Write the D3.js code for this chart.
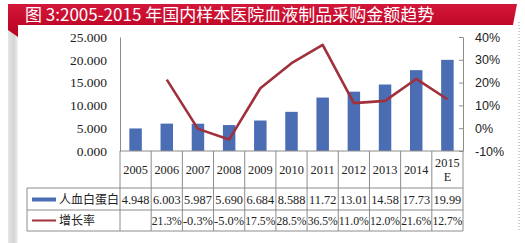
<!DOCTYPE html>
<html>
<head>
<meta charset="utf-8">
<script src="https://cdn.jsdelivr.net/npm/d3@7"></script>
<style>
  html, body { margin: 0; padding: 0; background: #fff; }
  svg { display: block; }
</style>
</head>
<body>
<div id="chart"></div>
<script>
// data
const years = ["2005", "2006", "2007", "2008", "2009", "2010", "2011", "2012", "2013", "2014", "2015E"];
const albumin = [4.948, 6.003, 5.987, 5.690, 6.684, 8.588, 11.72, 13.01, 14.58, 17.73, 19.99];
const albuminLabels = ["4.948", "6.003", "5.987", "5.690", "6.684", "8.588", "11.72", "13.01", "14.58", "17.73", "19.99"];
const growth = [null, 21.3, -0.3, -5.0, 17.5, 28.5, 36.5, 11.0, 12.0, 21.6, 12.7];
const growthLabels = ["", "21.3%", "-0.3%", "-5.0%", "17.5%", "28.5%", "36.5%", "11.0%", "12.0%", "21.6%", "12.7%"];
const leftTicks = [0, 5, 10, 15, 20, 25];
const rightTicks = [-10, 0, 10, 20, 30, 40];
const seriesNames = ["人血白蛋白", "增长率"];
const title = "图 3:2005-2015 年国内样本医院血液制品采购金额趋势";

const W = 525, H = 243;
const plot = { left: 120, right: 463, top: 37, bottom: 151 };
const rowY = [151, 188, 210, 231]; // table row lines
const tableLeft = 27;

const blue = "#4a6db3";
const red = "#a1303d";
const grid = "#8c8c8c";

const svg = d3.select("#chart").append("svg")
  .attr("width", W)
  .attr("height", H);

const defs = svg.append("defs");
const rg = defs.append("linearGradient").attr("id", "ribbon").attr("x1", "0%").attr("y1", "0%").attr("x2", "0%").attr("y2", "100%");
rg.append("stop").attr("offset", "0%").attr("stop-color", "#d3173a");
rg.append("stop").attr("offset", "100%").attr("stop-color", "#b8001f");
const sg = defs.append("linearGradient").attr("id", "shade").attr("x1", "0%").attr("y1", "0%").attr("x2", "100%").attr("y2", "0%");
sg.append("stop").attr("offset", "0%").attr("stop-color", "#e6e6e6");
sg.append("stop").attr("offset", "60%").attr("stop-color", "#d4d4d4");
sg.append("stop").attr("offset", "100%").attr("stop-color", "#f3f3f3");

// left shadow strip + dotted right border
svg.append("rect").attr("x", 8).attr("y", 30).attr("width", 10).attr("height", H - 30).attr("fill", "url(#shade)");
svg.append("line")
  .attr("x1", 519).attr("x2", 519).attr("y1", 22).attr("y2", 232)
  .attr("stroke", "#9a9a9a").attr("stroke-dasharray", "1,2");

// title ribbon
svg.append("path")
  .attr("d", "M8,4 L517,4 L513,25 L18,25 L18,37 L8,30 Z")
  .attr("fill", "url(#ribbon)");
svg.append("text")
  .attr("x", 25).attr("y", 21)
  .attr("fill", "#fff")
  .style("font-family", "'Noto Sans CJK SC', sans-serif")
  .style("font-size", "17px")
  .style("font-weight", 400)
  .text(title);

// scales
const x = d3.scaleBand().domain(years).range([plot.left, plot.right]).padding(0);
const xBar = d3.scaleBand().domain(years).range([plot.left, plot.right]).paddingInner(0.6).paddingOuter(0.3);
const y = d3.scaleLinear().domain([0, 25]).range([plot.bottom, plot.top]);
const y2 = d3.scaleLinear().domain([-10, 40]).range([plot.bottom, plot.top]);

// bars
svg.selectAll(".bar")
  .data(years.map((yr, i) => ({ yr, v: albumin[i] })))
  .enter().append("rect")
  .attr("class", "bar")
  .attr("x", d => xBar(d.yr))
  .attr("width", xBar.bandwidth())
  .attr("y", d => y(d.v))
  .attr("height", d => y(0) - y(d.v))
  .attr("fill", blue);

// growth line
const lineData = years.map((yr, i) => ({ yr, v: growth[i] })).filter(d => d.v !== null);
svg.append("path")
  .datum(lineData)
  .attr("fill", "none")
  .attr("stroke", red)
  .attr("stroke-width", 2.6)
  .attr("stroke-linejoin", "round")
  .attr("d", d3.line().x(d => x(d.yr) + x.bandwidth() / 2).y(d => y2(d.v)));

// left axis
const gl = svg.append("g")
  .attr("transform", `translate(${plot.left},0)`)
  .call(d3.axisLeft(y).tickValues(leftTicks).tickFormat(d3.format(".3f")).tickSize(0).tickPadding(13));
gl.select(".domain").attr("stroke", grid);
gl.selectAll("text")
  .style("font-family", "'Liberation Serif', 'Times New Roman', serif")
  .style("font-size", "13.5px")
  .attr("fill", "#222");

// right axis
const gr = svg.append("g")
  .attr("transform", `translate(${plot.right},0)`)
  .call(d3.axisRight(y2).tickValues(rightTicks).tickFormat(d => d + "%").tickSizeInner(-4).tickSizeOuter(0).tickPadding(12));
gr.select(".domain").attr("stroke", grid);
gr.selectAll(".tick line").attr("stroke", grid);
gr.selectAll("text")
  .style("font-family", "'Liberation Sans', Arial, sans-serif")
  .style("font-size", "12.5px")
  .attr("fill", "#222");

// data table
const table = svg.append("g").attr("stroke", grid).attr("stroke-width", 1);
table.append("line").attr("x1", plot.left).attr("x2", plot.right).attr("y1", rowY[0]).attr("y2", rowY[0]);
[rowY[1], rowY[2], rowY[3]].forEach(yy => {
  table.append("line").attr("x1", tableLeft).attr("x2", plot.right).attr("y1", yy).attr("y2", yy);
});
table.append("line").attr("x1", tableLeft).attr("x2", tableLeft).attr("y1", rowY[1]).attr("y2", rowY[3]);
table.append("line").attr("x1", plot.left).attr("x2", plot.left).attr("y1", rowY[0]).attr("y2", rowY[3]);
years.forEach(yr => {
  const xr = x(yr) + x.bandwidth();
  table.append("line").attr("x1", xr).attr("x2", xr).attr("y1", rowY[0]).attr("y2", rowY[3]);
});

const serif = "'Liberation Serif', 'Times New Roman', serif";
const cells = svg.append("g")
  .attr("text-anchor", "middle")
  .attr("fill", "#222")
  .style("font-family", serif)
  .style("font-size", "12.3px");

years.forEach((yr, i) => {
  const cx = x(yr) + x.bandwidth() / 2;
  if (yr === "2015E") {
    cells.append("text").attr("x", cx).attr("y", 167).text("2015");
    cells.append("text").attr("x", cx).attr("y", 181).text("E");
  } else {
    cells.append("text").attr("x", cx).attr("y", 174).text(yr);
  }
  cells.append("text").attr("x", cx).attr("y", 203.5).text(albuminLabels[i]);
  cells.append("text").attr("x", cx).attr("y", 225)
    .attr("textLength", growthLabels[i] ? 30 : null)
    .attr("lengthAdjust", "spacingAndGlyphs")
    .text(growthLabels[i]);
});

// legend keys inside the table
svg.append("rect").attr("x", 32).attr("y", 197.5).attr("width", 24).attr("height", 4).attr("fill", blue);
svg.append("line").attr("x1", 32).attr("x2", 56).attr("y1", 220.5).attr("y2", 220.5)
  .attr("stroke", red).attr("stroke-width", 2);
const legendText = svg.append("g")
  .attr("fill", "#222")
  .style("font-family", "'Noto Sans CJK SC', sans-serif")
  .style("font-size", "12px");
legendText.append("text").attr("x", 59).attr("y", 204).text(seriesNames[0]);
legendText.append("text").attr("x", 59).attr("y", 225).text(seriesNames[1]);
</script>
</body>
</html>
